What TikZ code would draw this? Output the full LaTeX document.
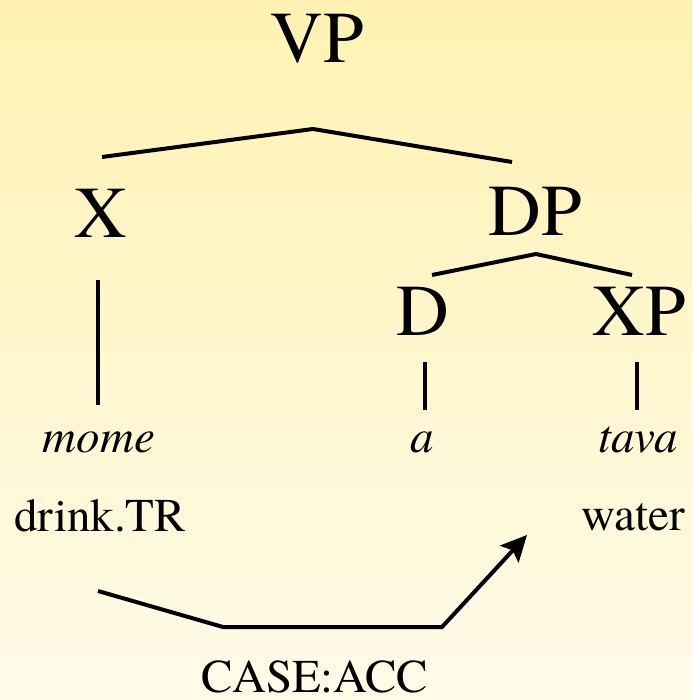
\documentclass[tikz,border=0pt]{standalone}
\usepackage{fontspec}
\setmainfont{texgyretermes}[Extension=.otf,UprightFont=*-regular,ItalicFont=*-italic,BoldFont=*-bold]
\usetikzlibrary{arrows.meta}
\definecolor{bgtop}{RGB}{255,242,178}
\definecolor{bgbottom}{RGB}{255,251,233}
\begin{document}
\begin{tikzpicture}[
		x=1pt,y=-1pt,
		cat/.style={anchor=base,inner sep=0pt,font=\fontsize{73}{80}\selectfont},
		word/.style={anchor=base,inner sep=0pt,font=\fontsize{47}{52}\selectfont\itshape},
		gloss/.style={anchor=base,inner sep=0pt,font=\fontsize{47}{52}\selectfont},
		branch/.style={line width=4pt},
		caseline/.style={line width=4pt,-{Stealth[length=26pt,width=25pt,inset=5pt]}}
	]
	\useasboundingbox (0,0) rectangle (692,700);
	\fill[top color=bgtop,bottom color=bgbottom] (0,0) rectangle (692,700);

	% categories
	\node[cat] (vp) at (317,63) {VP};
	\node[cat] (x) at (101,237) {X};
	\node[cat] (dp) at (535,236) {DP};
	\node[cat] (d) at (423,335) {D};
	\node[cat] (xp) at (639,335) {XP};

	% words and glosses
	\node[word] (mome) at (99,452) {mome};
	\node[word] (a) at (422,452) {a};
	\node[word] (tava) at (638,452) {tava};
	\node[gloss] (drink) at (100,531) {drink.TR};
	\node[gloss] (water) at (633,530) {water};
	\node[gloss] (case) at (315,692) {CASE:ACC};

	% branch points
	\coordinate (vp-fork) at (313,129);
	\coordinate (x-top) at (102,157);
	\coordinate (dp-top) at (512,162);
	\coordinate (dp-fork) at (536,254);
	\coordinate (d-top) at (432,275);
	\coordinate (xp-top) at (632,275);

	\draw[branch] (x-top) -- (vp-fork) -- (dp-top);
	\draw[branch] (d-top) -- (dp-fork) -- (xp-top);
	\draw[branch] (98,280) -- (98,405);
	\draw[branch] (425,362) -- (425,410);
	\draw[branch] (637,362) -- (637,410);

	% case assignment
	\coordinate (case-from) at (98,591);
	\coordinate (case-to) at (527,535);
	\draw[caseline] (case-from) -- (223,627) -- (442,627) -- (case-to);
\end{tikzpicture}
\end{document}
